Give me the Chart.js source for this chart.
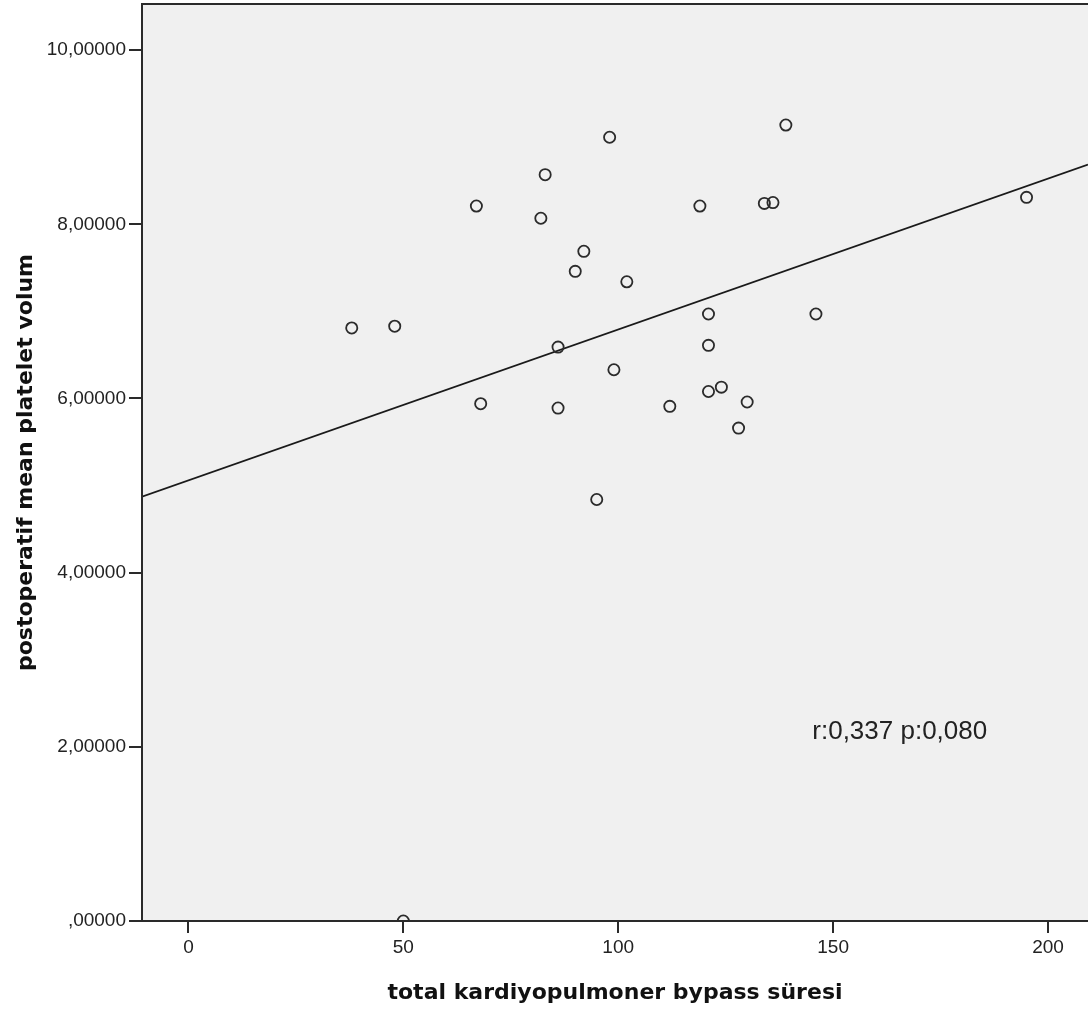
<!DOCTYPE html>
<html>
<head>
<meta charset="utf-8">
<script src="https://cdn.jsdelivr.net/npm/chart.js@4/dist/chart.umd.min.js"></script>
<style>
  html, body { margin: 0; padding: 0; background: #ffffff; }
  #wrap { width: 1090px; height: 1012px; }
</style>
</head>
<body>
<div id="wrap"><canvas id="myChart" width="1090" height="1012"></canvas></div>
<script>
// bypass time (x) and postoperative MPV (y)
const bypassTime = [38, 48, 50, 67, 68, 82, 83, 86, 86, 90, 92, 95, 98, 99, 102, 112, 119, 121, 121, 121, 124, 128, 130, 134, 136, 139, 146, 195];
const mpvValues  = [6.81, 6.83, 0.00, 8.21, 5.94, 8.07, 8.57, 6.59, 5.89, 7.46, 7.69, 4.84, 9.00, 6.33, 7.34, 5.91, 8.21, 6.97, 6.61, 6.08, 6.13, 5.66, 5.96, 8.24, 8.25, 9.14, 6.97, 8.31];

// fit line coefficients
const fitIntercept = 5.06;
const fitSlope = 0.01733;

// axis ranges and ticks
const xRange = [-10.8, 209.3];
const yRange = [0, 10.53];
const xTicks = [0, 50, 100, 150, 200];
const yTicks = [0, 2, 4, 6, 8, 10];

const statsText = 'r:0,337 p:0,080';
const statsAt = [165.5, 2.17];

const points = bypassTime.map((x, i) => ({ x: x, y: mpvValues[i] }));
const fitLine = xRange.map(x => ({ x: x, y: fitIntercept + fitSlope * x }));

function fmtY(v) {
    const s = v.toFixed(5).replace('.', ',');
    return s.startsWith('0,') ? s.slice(1) : s;
}

// no extra label padding, the chart area is set by afterFit sizes
function noPad(s) {
    s.paddingTop = 0;
    s.paddingBottom = 0;
    s.paddingLeft = 0;
    s.paddingRight = 0;
}

// plot background + frame + stats label
const plotFrame = {
    id: 'plotFrame',
    beforeDraw(chart) {
        const a = chart.chartArea;
        const ctx = chart.ctx;
        ctx.save();
        ctx.fillStyle = '#f0f0f0';
        ctx.fillRect(a.left, a.top, a.right - a.left, a.bottom - a.top);
        ctx.restore();
    },
    afterDraw(chart) {
        const a = chart.chartArea;
        const ctx = chart.ctx;
        ctx.save();
        ctx.strokeStyle = '#2a2a2a';
        ctx.lineWidth = 2;
        ctx.beginPath();
        ctx.moveTo(a.right, a.top);
        ctx.lineTo(a.left, a.top);
        ctx.lineTo(a.left, a.bottom);
        ctx.lineTo(a.right, a.bottom);
        ctx.stroke();

        const xs = chart.scales.x, ys = chart.scales.y;
        ctx.fillStyle = '#222';
        ctx.font = '26px "Liberation Sans", Arial, sans-serif';
        ctx.textAlign = 'center';
        ctx.textBaseline = 'middle';
        ctx.fillText(statsText, xs.getPixelForValue(statsAt[0]), ys.getPixelForValue(statsAt[1]));
        ctx.restore();
    }
};

const ctx = document.getElementById('myChart').getContext('2d');

const myChart = new Chart(ctx, {
    type: 'scatter',
    data: {
        datasets: [
            {
                label: 'fit',
                type: 'line',
                data: fitLine,
                borderColor: '#1a1a1a',
                borderWidth: 1.8,
                pointRadius: 0,
                fill: false,
                order: 2
            },
            {
                label: 'postoperatif mean platelet volum',
                data: points,
                pointStyle: 'circle',
                pointRadius: 5.6,
                pointBorderWidth: 1.8,
                pointBorderColor: '#2b2b2b',
                pointBackgroundColor: 'rgba(0,0,0,0)',
                order: 1
            }
        ]
    },
    options: {
        responsive: false,
        animation: false,
        layout: { autoPadding: false, padding: { left: 0, top: 4, right: 2, bottom: 0 } },
        plugins: {
            legend: { display: false },
            tooltip: { enabled: false }
        },
        scales: {
            x: {
                type: 'linear',
                min: xRange[0],
                max: xRange[1],
                afterBuildTicks: s => { s.ticks = xTicks.map(v => ({ value: v })); },
                afterFit: s => { s.height = 91; noPad(s); },
                grid: { drawOnChartArea: false, drawTicks: true, tickLength: 12, color: '#2a2a2a', lineWidth: 2 },
                border: { display: false },
                ticks: {
                    padding: 3,
                    color: '#222',
                    font: { family: '"Liberation Sans", Arial, sans-serif', size: 19 },
                    maxRotation: 0,
                    callback: v => String(v)
                },
                title: {
                    display: true,
                    text: 'total kardiyopulmoner bypass süresi',
                    color: '#111',
                    font: { family: '"DejaVu Sans", sans-serif', size: 22, weight: 'bold' },
                    padding: { top: 0, bottom: 6 }
                }
            },
            y: {
                type: 'linear',
                min: yRange[0],
                max: yRange[1],
                afterBuildTicks: s => { s.ticks = yTicks.map(v => ({ value: v })); },
                afterFit: s => { s.width = 142; noPad(s); },
                grid: { drawOnChartArea: false, drawTicks: true, tickLength: 13, color: '#2a2a2a', lineWidth: 2 },
                border: { display: false },
                ticks: {
                    padding: 3,
                    color: '#222',
                    font: { family: '"Liberation Sans", Arial, sans-serif', size: 19 },
                    callback: v => fmtY(v)
                },
                title: {
                    display: true,
                    text: 'postoperatif mean platelet volum',
                    color: '#111',
                    font: { family: '"DejaVu Sans", sans-serif', size: 22, weight: 'bold' },
                    padding: { top: 13, bottom: 0 }
                }
            }
        }
    },
    plugins: [plotFrame]
});
</script>
</body>
</html>
